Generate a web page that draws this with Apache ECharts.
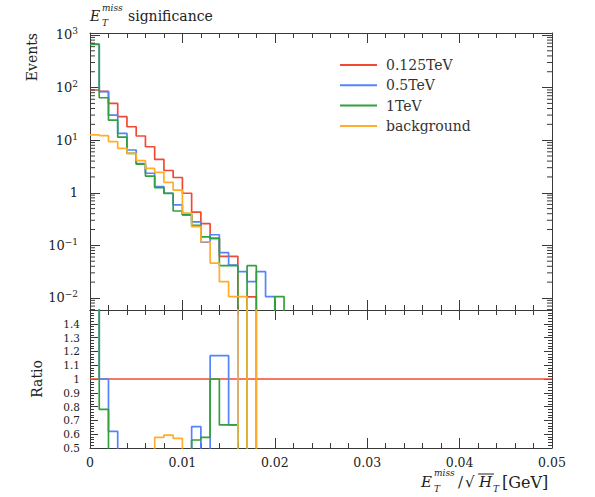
<!DOCTYPE html>
<html><head><meta charset="utf-8">
<script src="https://cdn.jsdelivr.net/npm/echarts@6/dist/echarts.min.js"></script>
<style>html,body{margin:0;padding:0;background:#fff}#c{width:595px;height:497px}</style>
</head><body><div id="c"></div>
<script>
// ---- data ----
const binEdges = [0.000,0.001,0.002,0.003,0.004,0.005,0.006,0.007,0.008,0.009,0.010,0.011,0.012,0.013,0.014,0.015,0.016,0.017,0.018,0.019,0.020,0.021,0.022];
const seriesNames = ['0.125TeV','0.5TeV','1TeV','background'];
const evRed    = [90, 85, 50, 28, 18, 12, 7.5, 4.3, 2.65, 1.95, 0.98, 0.43, 0.26, 0.136, 0.062, 0.062, 0, 0.0105, 0, 0, 0, 0];
const evBlue   = [660, 84, 30, 13.5, 6.5, 3.6, 2.35, 1.31, 0.98, 0.59, 0.38, 0.28, 0.115, 0.159, 0.073, 0.042, 0.0316, 0.0204, 0.0316, 0.0106, 0, 0];
const evGreen  = [670, 64, 24, 11.4, 5.6, 3.5, 2.08, 1.25, 0.97, 0.45, 0.38, 0.24, 0.145, 0.136, 0.041, 0.041, 0, 0.041, 0, 0, 0.0106, 0];
const evOrange = [12.6, 12.2, 9.4, 7.0, 5.6, 4.1, 2.9, 2.45, 1.58, 1.12, 0.41, 0.227, 0.117, 0.046, 0.0204, 0.0106, 0.0106, 0, 0, 0, 0, 0];
const HI = 9; // ratio off-scale above the panel
const ratioBlue   = [HI, 1.0, 0.62, 0,0,0,0,0,0,0,0, 0.655, 0, 1.169, 1.169, 0.667, HI, HI, HI, HI, HI, HI];
const ratioGreen  = [HI, 0.78, 0,0,0,0,0,0,0,0,0, 0.558, 0.577, 1.0, 0.667, 0.667, 0, HI, 0, 0, 0, 0];
const ratioOrange = [0,0,0,0,0,0,0, 0.577, 0.594, 0.57, 0,0,0,0,0, 0, HI, 0, HI, HI, HI, HI];
const ratioRed    = [1, 1];
const xRange = [0, 0.05];
const yLogRange = [0.0059, 1091];
const ratioRange = [0.5, 1.5];

// ---- style ----
const FONT = '"DejaVu Serif", serif';
const AX = '#3a3a3a';
const COLORS = ['#f04a35', '#5383ff', '#33a03e', '#ffad2a'];

function histPts(vals, floor) {
  const f = v => (v > 0 ? v : floor);
  const pts = vals.map((v, i) => [binEdges[i], f(v)]);
  pts.push([binEdges[vals.length], f(vals[vals.length - 1])]);
  return pts;
}
const minorVals = [];
for (let n = -3; n <= 3; n++) for (let k = 2; k <= 9; k++) {
  const v = k * Math.pow(10, n);
  if (v > yLogRange[0] && v < yLogRange[1]) minorVals.push([0, v]);
}

const chart = echarts.init(document.getElementById('c'), null, {renderer: 'svg'});
const G0 = {left: 90, top: 33, width: 462, height: 277};
const G1 = {left: 90, top: 310, width: 462, height: 138};

function xAx(grid, pos, labels) {
  return {
    type: 'value', gridIndex: grid, position: pos, min: xRange[0], max: xRange[1], interval: 0.01,
    axisLine: {show: true, onZero: false, lineStyle: {color: AX, width: 1}},
    axisTick: {show: true, inside: true, length: 10, lineStyle: {color: AX}},
    minorTick: {show: true, splitNumber: 5, length: 5, lineStyle: {color: AX}},
    splitLine: {show: false},
    axisLabel: {show: labels, fontFamily: FONT, fontSize: 12.5, color: '#222', margin: 8,
      formatter: v => (v === 0 ? '0' : v.toFixed(2))}
  };
}
function yLog(pos, labels) {
  return {
    type: 'log', gridIndex: 0, position: pos, min: yLogRange[0], max: yLogRange[1], logBase: 10,
    axisLine: {show: true, onZero: false, lineStyle: {color: AX, width: 1}},
    axisTick: {show: true, inside: true, length: 10, lineStyle: {color: AX}},
    minorTick: {show: false},
    splitLine: {show: false},
    axisLabel: {show: labels, showMinLabel: false, showMaxLabel: false, margin: 12,
      formatter: v => {
        const n = Math.round(Math.log10(v));
        if (n === 0) return '{b|1}';
        return '{b|10}{s|' + (n < 0 ? '\u2212' + (-n) : n) + '}';
      },
      rich: {
        b: {fontFamily: FONT, fontSize: 13, color: '#222'},
        s: {fontFamily: FONT, fontSize: 9, color: '#222', padding: [0, 0, 7, 0]}
      }}
  };
}
function yRatio(pos, labels) {
  return {
    type: 'value', gridIndex: 1, position: pos, min: ratioRange[0], max: ratioRange[1], interval: 0.1,
    axisLine: {show: true, onZero: false, lineStyle: {color: AX, width: 1}},
    axisTick: {show: true, inside: true, length: 8, lineStyle: {color: AX}},
    minorTick: {show: true, splitNumber: 5, length: 4, lineStyle: {color: AX}},
    splitLine: {show: false},
    axisLabel: {show: labels, showMaxLabel: false, fontFamily: FONT, fontSize: 10.5, color: '#222', margin: 10,
      formatter: v => String(Math.round(v * 10) / 10)}
  };
}

const series = [];
[evRed, evBlue, evGreen, evOrange].forEach((arr, i) => {
  series.push({
    name: seriesNames[i], type: 'line', step: 'end', xAxisIndex: 0, yAxisIndex: 0,
    data: histPts(arr, 1e-6), symbol: 'none', clip: true,
    lineStyle: {color: COLORS[i], width: 1.7}, itemStyle: {color: COLORS[i]}, z: 3 + i
  });
});
series.push({
  name: 'ratio-ref', type: 'line', xAxisIndex: 2, yAxisIndex: 2,
  data: ratioRed.map((v, i) => [xRange[i], v]), symbol: 'none', clip: true,
  lineStyle: {color: COLORS[0], width: 1.7}, z: 3
});
[ratioBlue, ratioGreen, ratioOrange].forEach((arr, i) => {
  series.push({
    name: 'ratio-' + seriesNames[i + 1], type: 'line', step: 'end', xAxisIndex: 2, yAxisIndex: 2,
    data: histPts(arr, 0), symbol: 'none', clip: true,
    lineStyle: {color: COLORS[i + 1], width: 1.7}, z: 4 + i
  });
});
series.push({
  type: 'custom', xAxisIndex: 0, yAxisIndex: 0, data: minorVals, silent: true, z: 10,
  renderItem: (params, api) => {
    const v = api.value(1);
    const l = api.coord([xRange[0], v]);
    const r = api.coord([xRange[1], v]);
    return {type: 'group', children: [
      {type: 'line', shape: {x1: l[0], y1: l[1], x2: l[0] + 5, y2: l[1]}, style: {stroke: AX, lineWidth: 1}},
      {type: 'line', shape: {x1: r[0] - 5, y1: r[1], x2: r[0], y2: r[1]}, style: {stroke: AX, lineWidth: 1}}
    ]};
  }
});

const T = (text, x, y, size, opts) => Object.assign({
  type: 'text', x: x, y: y,
  style: Object.assign({text: text, font: (opts && opts.italic ? 'italic ' : '') + size + 'px ' + FONT,
    fill: '#222', verticalAlign: 'middle', align: 'left'}, opts && opts.style)
}, opts && opts.el);

chart.setOption({
  animation: false,
  backgroundColor: '#fff',
  grid: [G0, G1],
  xAxis: [xAx(0, 'bottom', false), xAx(0, 'top', false), xAx(1, 'bottom', true), xAx(1, 'top', false)],
  yAxis: [yLog('left', true), yLog('right', false), yRatio('left', true), yRatio('right', false)],
  legend: {
    orient: 'vertical', left: 335, top: 52, itemWidth: 37, itemHeight: 2, itemGap: 4.3, icon: 'rect',
    data: seriesNames,
    textStyle: {fontFamily: FONT, fontSize: 14, color: '#333', padding: [0, 0, 0, 4], lineHeight: 16}
  },
  series: series,
  graphic: [
    // title
    T('E', 90, 16, 14, {italic: true}),
    T('miss', 102, 7.5, 9, {italic: true}),
    T('T', 102, 22.5, 9, {italic: true}),
    T('significance', 128, 16, 14),
    // y labels
    T('Events', 32, 33, 14, {el: {rotation: Math.PI / 2}, style: {align: 'right'}}),
    T('Ratio', 37, 360, 14, {el: {rotation: Math.PI / 2}, style: {align: 'right'}}),
    // x title
    T('E', 421, 482, 15, {italic: true}),
    T('miss', 434, 473, 9, {italic: true}),
    T('T', 434, 489, 9, {italic: true}),
    T('/', 458, 482, 15),
    T('\u221A', 465, 482, 15),
    {type: 'line', shape: {x1: 478, y1: 474, x2: 494, y2: 474}, style: {stroke: '#222', lineWidth: 1}},
    T('H', 479, 482, 15, {italic: true}),
    T('T', 493, 488.5, 9, {italic: true}),
    T('[GeV]', 502, 482, 16)
  ]
});
</script></body></html>
